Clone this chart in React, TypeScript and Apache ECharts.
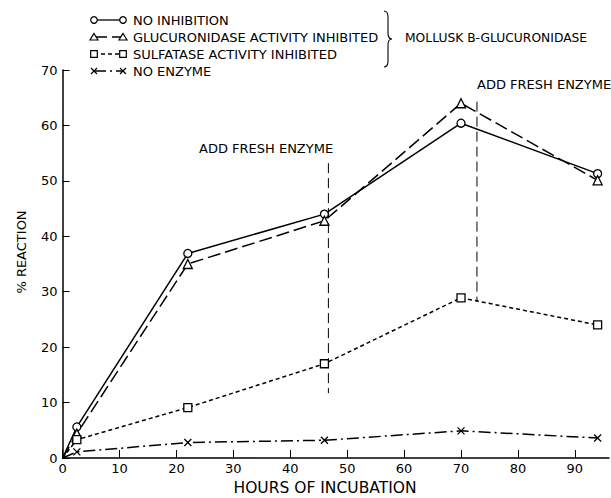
import React, { useEffect, useRef } from "react";
import * as echarts from "echarts";

// ---- data ----
const hours = [0, 2.5, 22, 46, 70, 94];
const noInhibition = [0, 5.6, 36.9, 44.0, 60.4, 51.3];
const glucuronidaseInhibited = [0, 4.4, 35.0, 42.8, 64.0, 50.1];
const sulfataseInhibited = [0, 3.3, 9.1, 17.0, 28.9, 24.0];
const noEnzyme = [0, 1.1, 2.8, 3.2, 4.9, 3.6];

const seriesNames = [
  "NO INHIBITION",
  "GLUCURONIDASE ACTIVITY INHIBITED",
  "SULFATASE ACTIVITY INHIBITED",
  "NO ENZYME",
];
const enzymeAddX = [46.7, 72.8];
const enzymeAddTop = [53.2, 64.3];
const enzymeAddBottom = [11.7, 28.2];
const enzymeLabel = "ADD FRESH ENZYME";
const braceLabel = "MOLLUSK B-GLUCURONIDASE";
const xTitle = "HOURS OF INCUBATION";
const yTitle = "% REACTION";

const FONT = "DejaVu Sans";
const X_SYMBOL = "path://M0,0L10,10M10,0L0,10";

const styles = [
  { symbol: "circle", dash: "solid" as any, size: 8, gDash: null },
  { symbol: "triangle", dash: [13, 5], size: 9, gDash: [13, 5] },
  { symbol: "rect", dash: [4, 3], size: 8, gDash: [4, 3] },
  { symbol: X_SYMBOL, dash: [12, 4, 2, 4], size: 7, gDash: [12, 4, 2, 4] },
];

echarts.graphic.registerShape(
  "brace",
  echarts.graphic.extendPath(
    "M0,0 Q4,0 4,6 L4,22 Q4,28 8,28 Q4,28 4,34 L4,50 Q4,56 0,56",
    {}
  )
);

function legendSymbol(kind: number, cx: number, cy: number): any[] {
  const st = { fill: "#fff", stroke: "#000", lineWidth: 1.2 };
  if (kind === 0) return [{ type: "circle", shape: { cx, cy, r: 3.3 }, style: st }];
  if (kind === 1)
    return [
      {
        type: "polygon",
        shape: { points: [[cx, cy - 3.5], [cx + 4, cy + 3], [cx - 4, cy + 3]] },
        style: st,
      },
    ];
  if (kind === 2)
    return [{ type: "rect", shape: { x: cx - 3.3, y: cy - 3.3, width: 6.6, height: 6.6 }, style: st }];
  return [
    { type: "line", shape: { x1: cx - 3, y1: cy - 3, x2: cx + 3, y2: cy + 3 }, style: { stroke: "#000", lineWidth: 1.2 } },
    { type: "line", shape: { x1: cx + 3, y1: cy - 3, x2: cx - 3, y2: cy + 3 }, style: { stroke: "#000", lineWidth: 1.2 } },
  ];
}

export default function App() {
  const ref = useRef<HTMLDivElement>(null);
  useEffect(() => {
    if (!ref.current) return;
    const chart = echarts.init(ref.current, null, { renderer: "svg" });
    const allValues = [noInhibition, glucuronidaseInhibited, sulfataseInhibited, noEnzyme];

    const series: any[] = allValues.map((vals, i) => ({
      type: "line",
      name: seriesNames[i],
      data: hours.map((h, j) =>
        j === 0 ? { value: [h, vals[j]], symbol: "none" } : [h, vals[j]]
      ),
      symbol: styles[i].symbol,
      symbolSize: styles[i].size,
      showAllSymbol: true,
      lineStyle: { color: "#000", width: 1.5, type: styles[i].dash },
      itemStyle: { color: "#fff", borderColor: "#000", borderWidth: 1.3 },
      z: 3,
    }));
    enzymeAddX.forEach((x, k) => {
      series.push({
        type: "line",
        data: [
          [x, enzymeAddTop[k]],
          [x, enzymeAddBottom[k]],
        ],
        symbol: "none",
        lineStyle: { color: "#000", width: 1, type: [10, 5] },
        z: 2,
      });
    });

    const rowsY = [20, 37, 54, 71];
    const legend: any[] = [];
    rowsY.forEach((y, i) => {
      legend.push({
        type: "line",
        shape: { x1: 94, y1: y, x2: 123, y2: y },
        style: { stroke: "#000", lineWidth: 1.3, lineDash: styles[i].gDash || undefined },
      });
      legend.push(...legendSymbol(i, 94, y), ...legendSymbol(i, 123, y));
      legend.push({
        type: "text",
        x: 133,
        y,
        style: { text: seriesNames[i], font: `13px "${FONT}"`, fill: "#000", verticalAlign: "middle" },
      });
    });

    chart.setOption({
      animation: false,
      backgroundColor: "#fff",
      grid: { left: 62.6, right: 2, top: 70, bottom: 40 },
      xAxis: {
        type: "value",
        min: 0,
        max: 96,
        interval: 10,
        axisLine: { lineStyle: { color: "#000", width: 1.5 } },
        axisTick: { inside: true, length: 8, lineStyle: { color: "#000", width: 1 } },
        axisLabel: { color: "#000", fontSize: 13, fontFamily: FONT, margin: 4, showMaxLabel: false },
        splitLine: { show: false },
      },
      yAxis: {
        type: "value",
        min: 0,
        max: 70,
        interval: 10,
        axisLine: { show: true, lineStyle: { color: "#000", width: 1.5 } },
        axisTick: { show: true, inside: true, length: 7, lineStyle: { color: "#000", width: 1 } },
        axisLabel: { color: "#000", fontSize: 13, fontFamily: FONT, margin: 5 },
        splitLine: { show: false },
      },
      series,
      graphic: [
        ...legend,
        { type: "brace", x: 384, y: 11, style: { stroke: "#000", fill: "none", lineWidth: 1.1 } },
        {
          type: "text",
          x: 405,
          y: 38,
          style: { text: braceLabel, font: `12.3px "${FONT}"`, fill: "#000", verticalAlign: "middle" },
        },
        {
          type: "text",
          x: 199,
          y: 148,
          style: { text: enzymeLabel, font: `13px "${FONT}"`, fill: "#000", verticalAlign: "middle" },
        },
        {
          type: "text",
          x: 477,
          y: 84,
          style: { text: enzymeLabel, font: `13px "${FONT}"`, fill: "#000", verticalAlign: "middle" },
        },
        {
          type: "text",
          x: 325,
          y: 488,
          style: { text: xTitle, font: `15.5px "${FONT}"`, fill: "#000", align: "center", verticalAlign: "middle" },
        },
        {
          type: "text",
          x: 21,
          y: 252,
          rotation: Math.PI / 2,
          style: { text: yTitle, font: `13px "${FONT}"`, fill: "#000", align: "center", verticalAlign: "middle" },
        },
      ],
    });
    return () => chart.dispose();
  }, []);
  return (
    <div
      ref={ref}
      style={{ position: "fixed", left: 0, top: 0, width: 611, height: 498, background: "#fff" }}
    />
  );
}
